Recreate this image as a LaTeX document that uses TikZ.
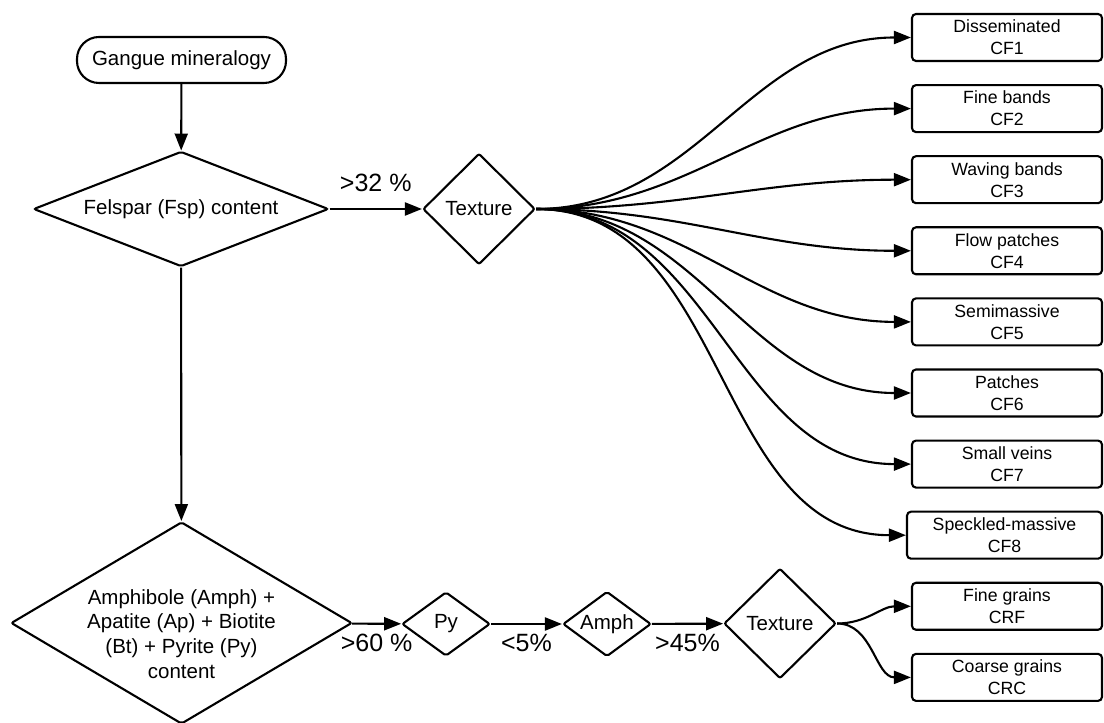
\documentclass[tikz,border=0pt]{standalone}
\usepackage{fontspec}
\setmainfont{Liberation Sans}
\usetikzlibrary{positioning, arrows.meta, shapes.geometric}

\begin{document}
\begin{tikzpicture}[x=1pt, y=1pt, line width=2.1pt,
  font=\fontsize{20.5pt}{24.7pt}\selectfont,
  termbox/.style={draw, rounded corners=22pt, minimum width=209pt, minimum height=46pt},
  decision/.style={draw, diamond, inner sep=0pt, rounded corners=2pt, align=center},
  leaf/.style={draw, rounded corners=4pt, minimum width=190pt, minimum height=47pt,
               inner sep=0pt, align=center, font=\fontsize{17.7pt}{22pt}\selectfont},
  pct/.style={font=\fontsize{25pt}{30pt}\selectfont},
  >={Triangle[length=17pt, width=13pt]}]
  \useasboundingbox (0,0) rectangle (1104,723);
  \node[termbox] (gangue) at (181.5,663) {Gangue mineralogy};
  \node[decision, aspect=2.57, minimum width=295pt, minimum height=115pt] (fsp)
        at (181,514) {Felspar (Fsp) content};
  \node[decision, minimum width=112pt, minimum height=111pt] (tex1) at (479,514) {Texture};
  \node[decision, aspect=1.69, minimum width=341pt, minimum height=202pt] (amph)
        at (181.5,100) {};
  \node[align=center] (amphtxt) at ([yshift=-11pt]amph.center)
        {Amphibole (Amph) +\\ Apatite (Ap) + Biotite\\ (Bt) + Pyrite (Py)\\ content};
  \node[decision, aspect=1.37, minimum width=88pt, minimum height=64pt] (py)
        at (446,99) {Py};
  \node[decision, aspect=1.35, minimum width=88pt, minimum height=65pt] (amphd)
        at (607,99) {Amph};
  \node[decision, minimum width=112pt, minimum height=110pt] (tex2) at (780,99.5) {Texture};
  % Felspar textures
  \node[leaf] (cf1) at (1007,685.5) {Disseminated\\ CF1};
  \node[leaf, below=22pt of cf1] (cf2) {Fine bands\\ CF2};
  \node[leaf, below=22pt of cf2] (cf3) {Waving bands\\ CF3};
  \node[leaf, below=22pt of cf3] (cf4) {Flow patches\\ CF4};
  \node[leaf, below=22pt of cf4] (cf5) {Semimassive\\ CF5};
  \node[leaf, below=22pt of cf5] (cf6) {Patches\\ CF6};
  \node[leaf, below=22pt of cf6] (cf7) {Small veins\\ CF7};
  \node[leaf, minimum width=195pt, below=22pt of cf7.south east, anchor=north east] (cf8)
        {Speckled-massive\\ CF8};
  % Amphibole textures
  \node[leaf, below=22pt of cf8.south east, anchor=north east] (crf) {Fine grains\\ CRF};
  \node[leaf, below=22pt of crf] (crc) {Coarse grains\\ CRC};
  \draw[->] (gangue) -- (fsp);
  \draw[->] (fsp) -- node[pct, above=13pt] {>32 \%} (tex1);
  \draw[->] (fsp) -- (amph);
  \draw[->] (amph) -- node[pct, below=6pt] {>60 \%} (py);
  \draw[->] (py) -- node[pct, below=6pt] {<5\%} (amphd);
  \draw[->] (amphd) -- node[pct, below=6pt] {>45\%} (tex2);
  \draw[->] (tex1.east) to[out=0, in=180] (cf1.west);
  \draw[->] (tex1.east) to[out=0, in=180] (cf2.west);
  \draw[->] (tex1.east) to[out=0, in=180] (cf3.west);
  \draw[->] (tex1.east) to[out=0, in=180] (cf4.west);
  \draw[->] (tex1.east) to[out=0, in=180] (cf5.west);
  \draw[->] (tex1.east) to[out=0, in=180] (cf6.west);
  \draw[->] (tex1.east) to[out=0, in=180] (cf7.west);
  \draw[->] (tex1.east) to[out=0, in=180] (cf8.west);
  \draw[->] (tex2.east) to[out=0, in=180] (crf.west);
  \draw[->] (tex2.east) to[out=0, in=180] (crc.west);
\end{tikzpicture}
\end{document}
